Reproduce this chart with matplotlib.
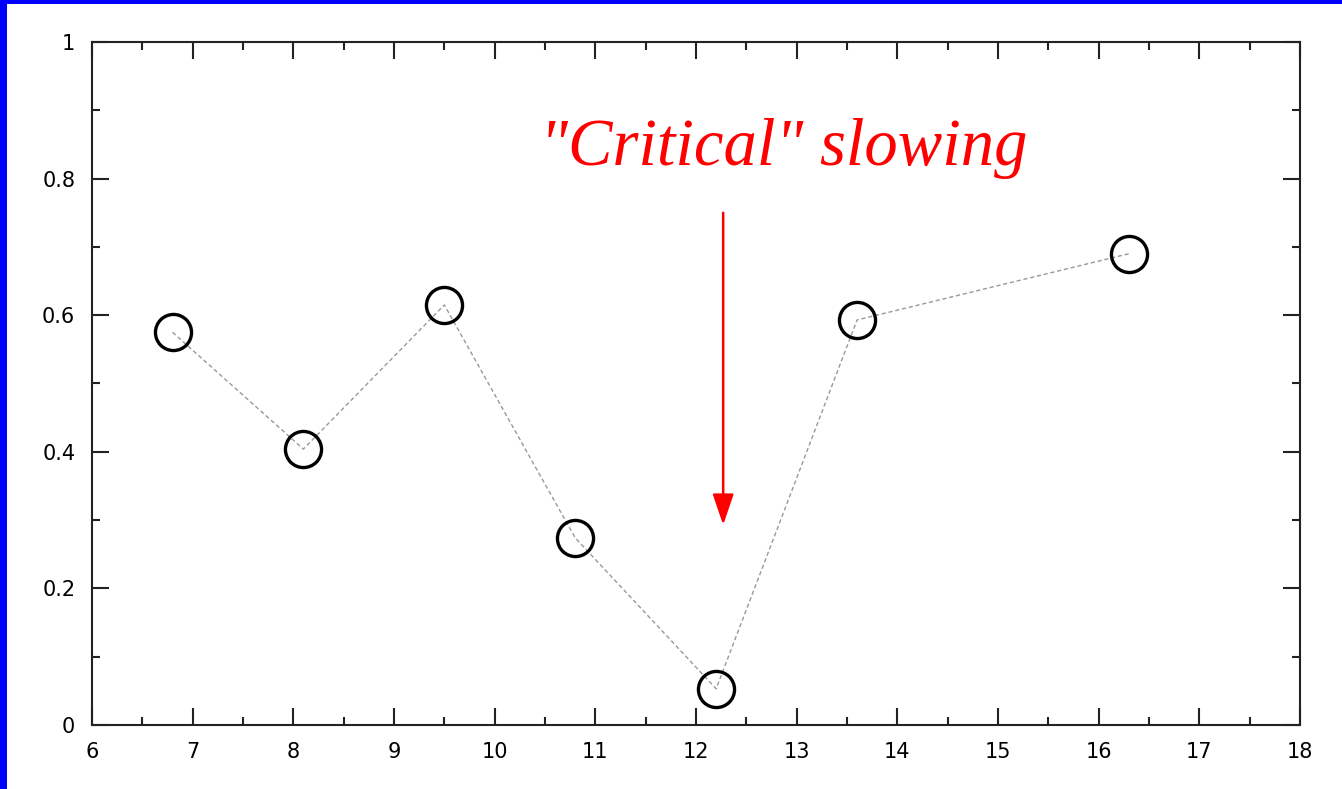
import matplotlib
matplotlib.use("Agg")
import matplotlib.pyplot as plt
from matplotlib.patches import Rectangle
from matplotlib.ticker import MultipleLocator

x_vals = [6.8, 8.1, 9.5, 10.8, 12.2, 13.6, 16.3]
y_vals = [0.575, 0.404, 0.615, 0.274, 0.053, 0.593, 0.690]

arrow_x = 12.27
arrow_from = 0.75
arrow_to = 0.293
label = '"Critical" slowing'
label_pos = (12.87, 0.82)

W, H = 1342, 789
fig = plt.figure(figsize=(W / 100, H / 100), dpi=100)
fig.patch.set_facecolor("white")

# blue frame strips on the left and top edges
fig.patches.append(Rectangle((0, 0), 7 / W, 1, transform=fig.transFigure,
                             facecolor="#0000ff", edgecolor="none", zorder=0))
fig.patches.append(Rectangle((0, 1 - 4 / H), 1, 4 / H, transform=fig.transFigure,
                             facecolor="#0000ff", edgecolor="none", zorder=0))

ax = fig.add_axes([92 / W, 1 - 725 / H, (1300 - 92) / W, (725 - 42) / H])

ax.plot(x_vals, y_vals, linestyle=(0, (3, 2)), color="#999999", linewidth=1.0,
        marker="o", markersize=26, markerfacecolor="none",
        markeredgecolor="black", markeredgewidth=2.4)

ax.annotate("", xy=(arrow_x, arrow_to), xytext=(arrow_x, arrow_from),
            arrowprops=dict(arrowstyle="-|>,head_length=1.9,head_width=0.65",
                            color="red", linewidth=1.8, shrinkA=0, shrinkB=0))

ax.text(label_pos[0], label_pos[1], label, color="red", fontsize=48,
        family="Liberation Serif", style="italic", ha="center", va="baseline")

ax.set_xlim(6, 18)
ax.set_ylim(0, 1)
ax.xaxis.set_major_locator(MultipleLocator(1))
ax.xaxis.set_minor_locator(MultipleLocator(0.5))
ax.yaxis.set_major_locator(MultipleLocator(0.2))
ax.yaxis.set_minor_locator(MultipleLocator(0.1))
ax.yaxis.set_major_formatter(plt.FuncFormatter(lambda v, p: f"{v:g}"))

ax.tick_params(which="both", direction="in", top=True, right=True,
               labelsize=15, width=1.5, color="#222222")
ax.tick_params(which="major", length=12, pad=12)
ax.tick_params(which="minor", length=6)
for lbl in ax.get_xticklabels() + ax.get_yticklabels():
    lbl.set_family("DejaVu Sans")

for s in ax.spines.values():
    s.set_linewidth(1.5)
    s.set_color("#222222")

fig.savefig("out.png", dpi=100)
